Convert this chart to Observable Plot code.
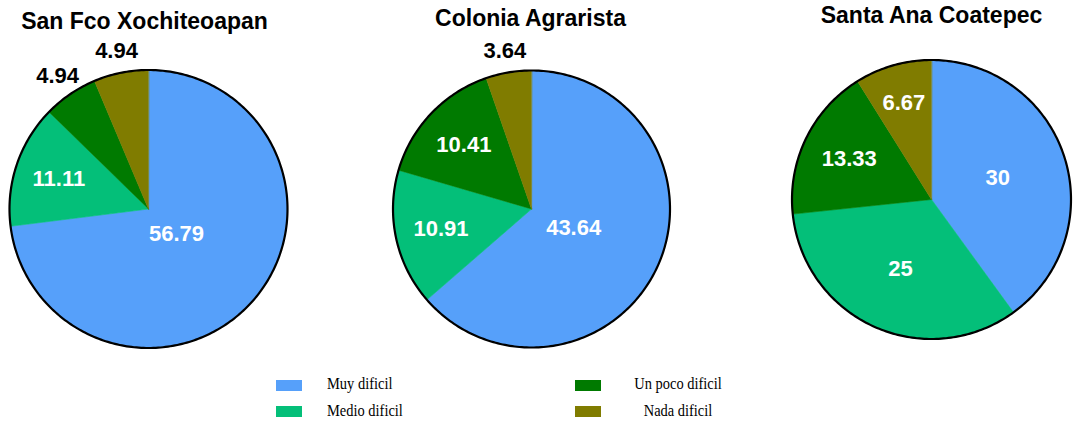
<!DOCTYPE html>
<html><head><meta charset="utf-8">
<script src="https://cdn.jsdelivr.net/npm/d3@7"></script>
<script src="https://cdn.jsdelivr.net/npm/@observablehq/plot@0.6"></script>
<style>
html,body{margin:0;padding:0;background:#fff;}
#wrap{position:relative;width:1073px;height:421px;overflow:hidden;background:#fff;}
.pie{position:absolute;top:0;}
.lg{position:absolute;font-family:"Liberation Serif","DejaVu Serif",serif;font-size:17px;color:#000;line-height:17px;white-space:nowrap;transform:scaleX(0.85);}
.sw{position:absolute;width:26px;height:11px;}
</style></head><body><div id="wrap"></div>
<script>
// ---- data ----
const categories = ["Muy dificil", "Medio dificil", "Un poco dificil", "Nada dificil"];
const colors = ["#56a0fa", "#04bf79", "#007a00", "#807c00"];
const sites = ["San Fco Xochiteoapan", "Colonia Agrarista", "Santa Ana Coatepec"];
const sanFco = [56.79, 11.11, 4.94, 4.94];
const colonia = [43.64, 10.91, 10.41, 3.64];
const santaAna = [30, 25, 13.33, 6.67];
const series = [sanFco, colonia, santaAna];

// ---- layout ----
const layout = [
  {cx: 148, cy: 208.5, R: 139, tdx: -4, tBase: 28},
  {cx: 531, cy: 208.5, R: 138.5, tdx: -1, tBase: 25},
  {cx: 931, cy: 199, R: 139.5, tdx: 0, tBase: 22}
];
const W = 290, H = 360;
const sans = "'Liberation Sans', Arial, sans-serif";
const wrap = document.getElementById("wrap");

series.forEach((vals, i) => {
  const L = layout[i];
  const arcs = d3.pie().sort(null).value(d => d)(vals);
  const total = d3.sum(vals);
  const poly = [];
  arcs.forEach((a, j) => {
    poly.push({k: categories[j], x: 0, y: 0});
    const n = Math.max(2, Math.ceil((a.endAngle - a.startAngle) / (Math.PI / 180)));
    for (let s = 0; s <= n; s++) {
      const t = a.startAngle + (a.endAngle - a.startAngle) * s / n;
      poly.push({k: categories[j], x: Math.sin(t), y: Math.cos(t)});
    }
  });
  const circle = d3.range(0, 360).map(d => ({x: Math.sin(d * Math.PI / 180), y: Math.cos(d * Math.PI / 180)}));
  const labels = arcs.map((a, j) => {
    const f = vals[j] / total;
    const m = (a.startAngle + a.endAngle) / 2;
    const out = f < 0.075;
    const k = out ? 1.16 : 0.78 - 0.7 * f;
    return {x: Math.sin(m) * k, y: Math.cos(m) * k, text: String(vals[j]), out};
  });
  const chart = Plot.plot({
    width: W, height: H, margin: 0,
    style: {background: "transparent", overflow: "visible"},
    x: {domain: [-W / 2 / L.R, W / 2 / L.R], axis: null},
    y: {domain: [-(H - L.cy) / L.R, L.cy / L.R], axis: null},
    color: {domain: categories, range: colors},
    marks: [
      Plot.line(poly, {x: "x", y: "y", z: "k", fill: "k", stroke: "k", strokeWidth: 0.6, curve: "linear-closed"}),
      Plot.line(circle, {x: "x", y: "y", stroke: "#000", strokeWidth: 2.2, curve: "linear-closed"}),
      Plot.text(labels, {filter: d => !d.out, x: "x", y: "y", text: "text", fill: "#fff", fontSize: 22, fontWeight: "bold", fontFamily: sans}),
      Plot.text(labels, {filter: d => d.out, x: "x", y: "y", text: "text", fill: "#000", fontSize: 22, fontWeight: "bold", fontFamily: sans}),
      Plot.text([sites[i]], {text: d => d, frameAnchor: "top", dy: L.tBase, dx: L.tdx, lineAnchor: "bottom", fill: "#000", fontSize: 23, fontWeight: "bold", fontFamily: sans})
    ]
  });
  chart.classList.add("pie");
  chart.style.left = (L.cx - W / 2) + "px";
  wrap.appendChild(chart);
});

// ---- legend ----
const legendPos = [
  {sx: 276, sy: 380, tx: 327, ty: 375, align: "left"},
  {sx: 276, sy: 406, tx: 327, ty: 402, align: "left"},
  {sx: 575, sy: 380, tx: 678, ty: 375, align: "center"},
  {sx: 575, sy: 406, tx: 678, ty: 402, align: "center"}
];
categories.forEach((c, j) => {
  const p = legendPos[j];
  const sw = document.createElement("div");
  sw.className = "sw";
  sw.style.left = p.sx + "px"; sw.style.top = p.sy + "px"; sw.style.background = colors[j];
  wrap.appendChild(sw);
  const t = document.createElement("div");
  t.className = "lg";
  t.textContent = c;
  t.style.top = p.ty + "px";
  if (p.align === "left") { t.style.left = p.tx + "px"; t.style.transformOrigin = "left center"; }
  else { t.style.left = (p.tx - 100) + "px"; t.style.width = "200px"; t.style.textAlign = "center"; t.style.transformOrigin = "center center"; }
  wrap.appendChild(t);
});
</script></body></html>
